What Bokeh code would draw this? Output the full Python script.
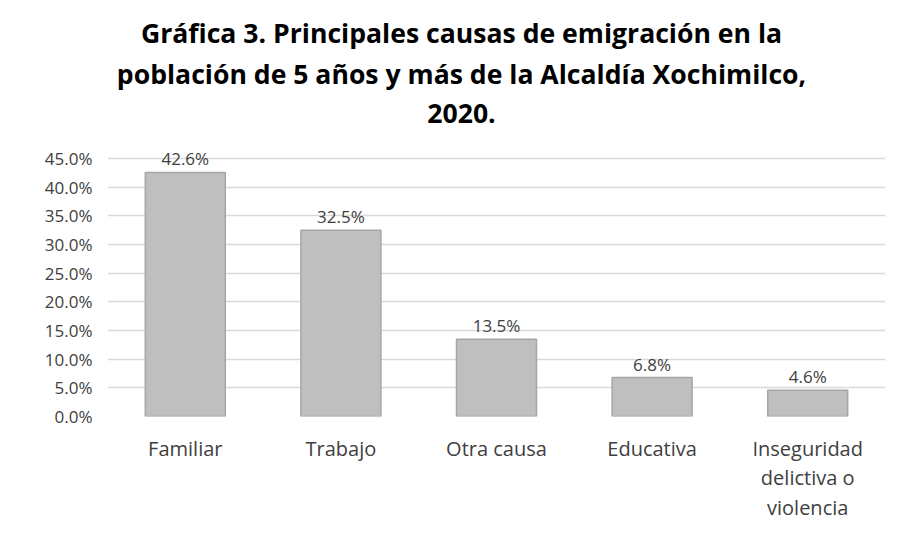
from bokeh.plotting import figure
from bokeh.layouts import column
from bokeh.models import ColumnDataSource, Range1d, FixedTicker, PrintfTickFormatter
from bokeh.core.properties import value
from bokeh.embed import file_html
from bokeh.resources import INLINE

categories = ["Familiar", "Trabajo", "Otra causa", "Educativa", "Inseguridad\ndelictiva o\nviolencia"]
values = [42.6, 32.5, 13.5, 6.8, 4.6]
labels = ["42.6%", "32.5%", "13.5%", "6.8%", "4.6%"]
y_ticks = [0, 5, 10, 15, 20, 25, 30, 35, 40, 45]
title_lines = [
    "Gráfica 3. Principales causas de emigración en la",
    "población de 5 años y más de la Alcaldía Xochimilco,",
    "2020.",
]

FONT = "Open Sans"
W = 894
TITLE_H = 140
FRAME_L, FRAME_R = 107, 885

# ---- title strip (its frame is aligned with the chart frame; pixel coords) ----
t = figure(width=W, height=TITLE_H, x_range=Range1d(FRAME_L, FRAME_R), y_range=Range1d(0, TITLE_H),
           x_axis_type=None, y_axis_type=None, output_backend="svg", toolbar_location=None,
           min_border=0)
t.title = None
t.outline_line_color = None
t.xgrid.visible = False
t.ygrid.visible = False
t.background_fill_color = "white"
t.border_fill_color = "white"
title_src = ColumnDataSource(data=dict(
    x=[461, 461, 461],
    y=[108, 67, 27],
    text=title_lines))
t.text(x="x", y="y", text="text", source=title_src,
       text_align="center", text_baseline="alphabetic",
       text_font=value(FONT), text_font_size="26.6px", text_font_style="bold",
       text_color="#000000")

# ---- bar chart ----
source = ColumnDataSource(data=dict(cat=categories, val=values, lab=labels))

p = figure(
    x_range=categories,
    y_range=Range1d(0, 48),
    width=W, height=386,
    output_backend="svg",
    toolbar_location=None,
    min_border_left=FRAME_L, min_border_right=W - FRAME_R,
    min_border_top=1, min_border_bottom=110,
)
p.title = None
p.outline_line_color = None
p.background_fill_color = "white"
p.border_fill_color = "white"

p.vbar(x="cat", top="val", width=0.514, source=source,
       fill_color="#bfbfbf", line_color="#a6a6a6", line_width=1.5)

p.text(x="cat", y="val", text="lab", source=source,
       text_align="center", text_baseline="bottom", y_offset=-2,
       text_font=value(FONT), text_font_size="17px", text_color="#404040")

p.xgrid.grid_line_color = None
p.ygrid.grid_line_color = "#d9d9d9"
p.ygrid.grid_line_width = 1.5

p.yaxis.ticker = FixedTicker(ticks=y_ticks)
p.yaxis.formatter = PrintfTickFormatter(format="%.1f%%")
p.yaxis.axis_line_color = None
p.yaxis.major_tick_line_color = None
p.yaxis.minor_tick_line_color = None
p.yaxis.major_tick_out = 0
p.yaxis.minor_tick_out = 0
p.yaxis.major_label_standoff = 15
p.yaxis.major_label_text_font = FONT
p.yaxis.major_label_text_font_size = "17px"
p.yaxis.major_label_text_color = "#404040"

p.xaxis.axis_line_color = None
p.xaxis.major_tick_line_color = None
p.xaxis.minor_tick_line_color = None
p.xaxis.major_tick_out = 0
p.xaxis.minor_tick_out = 0
p.xaxis.major_label_standoff = 18
p.xaxis.major_label_text_font = FONT
p.xaxis.major_label_text_font_size = "20px"
p.xaxis.major_label_text_color = "#404040"
p.xaxis.major_label_text_line_height = 1.1
p.xaxis.major_label_orientation = "horizontal"

layout = column(t, p, spacing=0)
open("out.html", "w").write(file_html(layout, INLINE))
